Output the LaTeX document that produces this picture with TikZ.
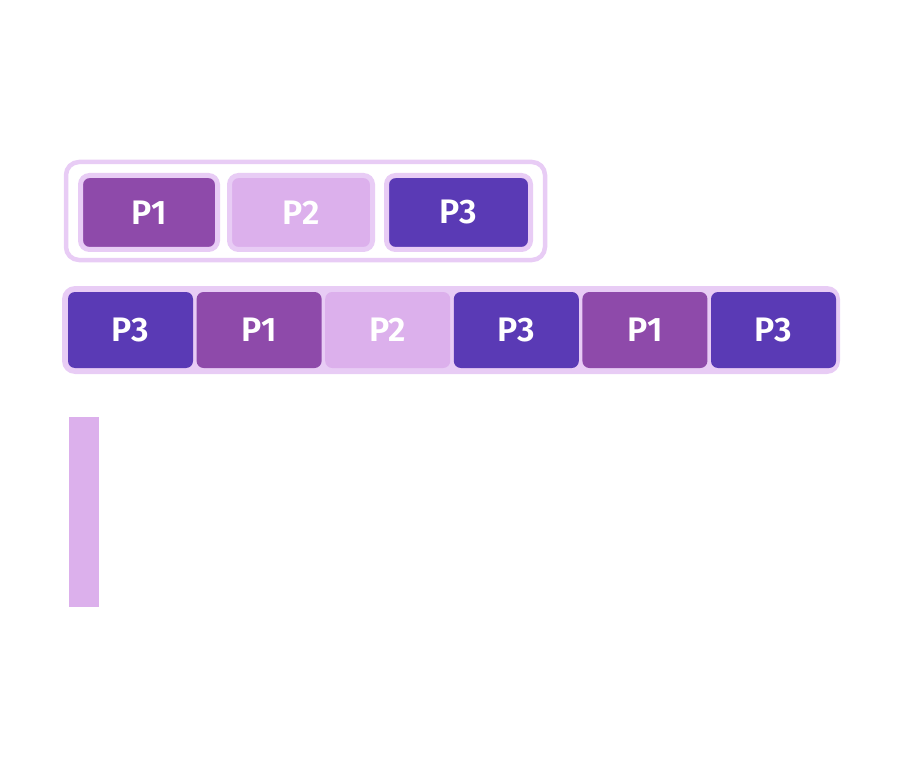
\documentclass[tikz,border=0pt]{standalone}
\usepackage{fontspec}
\setsansfont{Fira Sans}[BoldFont={Fira Sans SemiBold}]
\usepackage{tikz}

\definecolor{pone}{HTML}{8E4AAA}
\definecolor{ptwo}{HTML}{DCB0EC}
\definecolor{pthree}{HTML}{5A3AB5}
\definecolor{rim}{HTML}{E8CCF5}

\tikzset{
  lbl/.style={text=white, font=\sffamily\bfseries\fontsize{34}{36}\selectfont},
  slot/.style={lbl, draw=rim, line width=5, rounded corners=9,
    minimum height=74, inner sep=0},
  cell/.style={lbl, rounded corners=7, minimum width=125,
    minimum height=76, inner sep=0}
}

\begin{document}
\begin{tikzpicture}[x=1pt, y=-1pt]
\useasboundingbox (0,0) rectangle (913,778);

% ready queue
\node[draw=rim, fill=white, line width=4.5, rounded corners=13,
  minimum width=479, minimum height=98] (pool) at (305.5,211) {};
\node[slot, fill=pone, minimum width=137] (q1) at (149,212.5) {P1};
\node[slot, fill=ptwo, minimum width=143] (q2) at (301,212.5) {P2};
\node[slot, fill=pthree, minimum width=144] (q3) at (458.5,212.5) {P3};

% time line
\node[fill=rim, rounded corners=13, minimum width=778,
  minimum height=88] (line) at (451,330) {};
\foreach \n/\c/\t in {0/pthree/P3, 1/pone/P1, 2/ptwo/P2,
                     3/pthree/P3, 4/pone/P1, 5/pthree/P3} {
  \node[cell, fill=\c] (c\n) at ({130.5+128.6*\n},330) {\t};
}

\node[fill=ptwo, minimum width=30, minimum height=190,
  inner sep=0] (bar) at (84,512) {};

\end{tikzpicture}
\end{document}
